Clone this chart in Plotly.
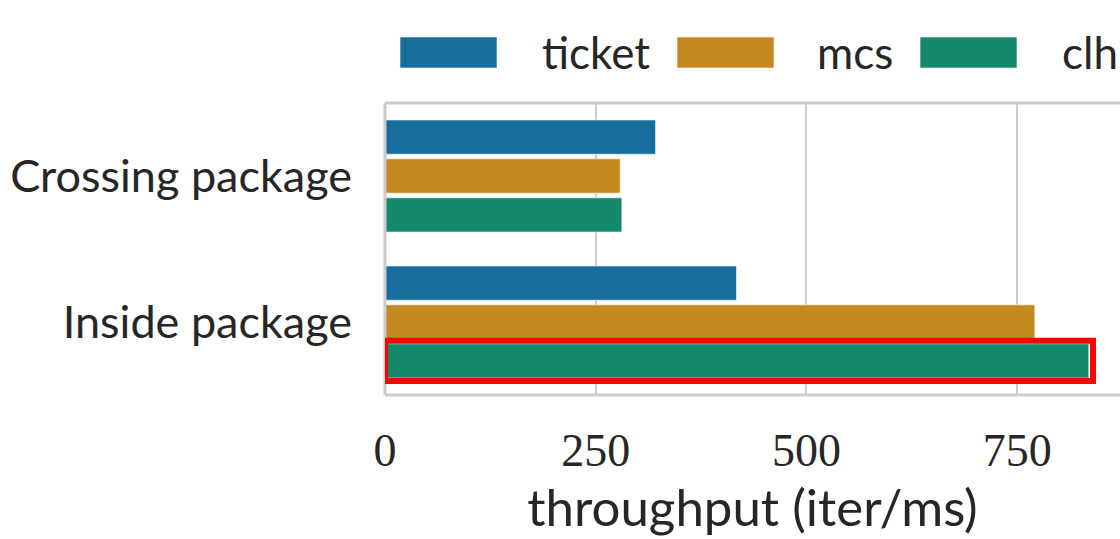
import plotly.graph_objects as go

categories = ["Crossing package", "Inside package"]
series_names = ["ticket", "mcs", "clh"]
ticket = [321, 417]
mcs = [279, 771]
clh = [281, 835]
tick_values = [0, 250, 500, 750]
tick_labels = ["0", "250", "500", "750"]

colors = {"ticket": "#176e9c", "mcs": "#c48820", "clh": "#138a6c"}
series = {"ticket": ticket, "mcs": mcs, "clh": clh}

TEXT = "#262626"
GRID = "#cccccc"
SANS = "Lato, 'Noto Sans', sans-serif"
SERIF = "'Liberation Serif', 'DejaVu Serif', serif"

# plot area in pixels
L, T, B, W, H = 385, 103, 144, 1120, 539
PW, PH = W - L, H - T - B

fig = go.Figure()
for name in series_names:
    fig.add_trace(go.Bar(
        y=categories, x=series[name], orientation="h", name=name,
        marker=dict(color=colors[name], line=dict(color="rgba(255,255,255,0.6)", width=1)),
        showlegend=False,
    ))

X_MAX = 872
fig.update_layout(
    width=W, height=H,
    margin=dict(l=L, r=0, t=T, b=B),
    paper_bgcolor="white", plot_bgcolor="white",
    barmode="group", bargap=0.2, bargroupgap=0.12,
    xaxis=dict(
        range=[0, X_MAX], tickvals=tick_values, ticktext=tick_labels,
        showgrid=True, gridcolor=GRID, gridwidth=2, zeroline=False,
        showline=False, ticks="", ticklen=0,
        tickfont=dict(family=SERIF, size=46, color=TEXT),
        ticklabelstandoff=24,
        title=dict(text="throughput (iter/ms)", font=dict(family=SANS, size=51, color=TEXT), standoff=8),
    ),
    yaxis=dict(
        range=[1.5, -0.5], type="category",
        showgrid=False, zeroline=False, showline=False, ticks="",
        tickfont=dict(family=SANS, size=45, color=TEXT),
        ticklabelstandoff=32,
    ),
)

# frame on top, left and bottom of the plot area
for x0, y0, x1, y1 in [(0, 1, 1.01, 1), (0, 0, 1.01, 0), (0, 0, 0, 1)]:
    fig.add_shape(type="line", xref="paper", yref="paper", x0=x0, y0=y0, x1=x1, y1=y1,
                  line=dict(color=GRID, width=3), layer="above")

# highlight box around the fastest bar
slot = 0.8 / 3
yc = 1 + slot
fig.add_shape(type="rect", xref="x", yref="y",
              x0=0, x1=clh[1] + 5, y0=yc - 0.138, y1=yc + 0.138,
              line=dict(color="#ff0000", width=6), fillcolor="rgba(0,0,0,0)", layer="above")

# legend row across the top
patch_x = [400, 677, 920]
text_x = [540, 815, 1060]
for i, name in enumerate(series_names):
    fig.add_shape(type="rect", xref="paper", yref="paper",
                  x0=(patch_x[i] - L) / PW, x1=(patch_x[i] + 97 - L) / PW,
                  y0=(T + PH - 68) / PH, y1=(T + PH - 37) / PH,
                  line=dict(color="rgba(255,255,255,0.6)", width=1), fillcolor=colors[name])
    fig.add_annotation(xref="paper", yref="paper", x=(text_x[i] - L) / PW, y=(T + PH - 52) / PH,
                       text=name, showarrow=False, xanchor="left", yanchor="middle",
                       font=dict(family=SANS, size=44, color=TEXT))

fig.write_html("out.html")
